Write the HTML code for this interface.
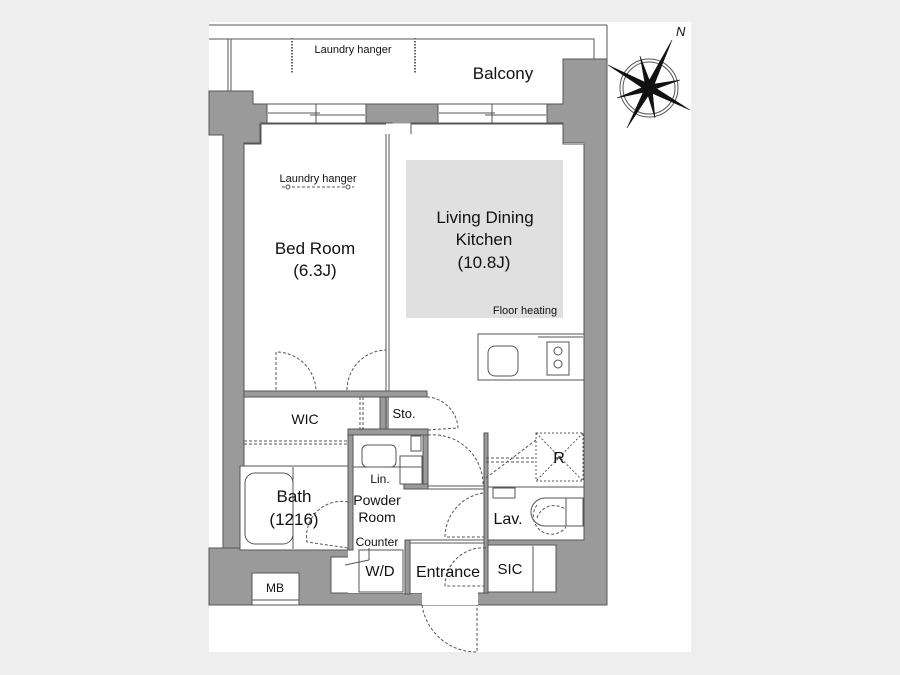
<!DOCTYPE html>
<html><head><meta charset="utf-8"><style>
html,body{margin:0;padding:0;background:#eeeeee;}
svg{display:block;}
text{font-family:"Liberation Sans",sans-serif;fill:#111;}
</style></head><body>
<svg width="900" height="675" viewBox="0 0 900 675" xmlns="http://www.w3.org/2000/svg">
<rect x="0" y="0" width="900" height="675" fill="#eeeeee"/>
<rect x="209" y="22" width="482" height="630" fill="#ffffff"/>
<g stroke="#555" fill="none" stroke-width="1">
<line x1="209" y1="25" x2="607" y2="25"/>
<line x1="607" y1="25" x2="607" y2="605"/>
<polyline points="209,39 594,39 594,59"/>
<line x1="228" y1="39" x2="228" y2="91"/>
<line x1="231" y1="39" x2="231" y2="91"/>
<line x1="253" y1="104" x2="556" y2="104"/>
</g>
<g stroke="#666" stroke-width="2" stroke-dasharray="1.5,1.5">
<line x1="292" y1="38" x2="292" y2="74"/>
<line x1="415" y1="38" x2="415" y2="74"/>
</g>
<g fill="#9a9a9a" stroke="#555" stroke-width="1">
<polygon points="209,91 253,91 253,104 267,104 267,123 260,123 260,143 244,143 244,548 223,548 223,135 209,135"/>
<polygon points="366,104 438,104 438,123 411,123 411,134 392,134 392,123 366,123"/>
<polygon points="547,104 563,104 563,59 607,59 607,605 209,605 209,548 244,548 244,143 584,143 563,143 563,123 547,123"/>
</g>
<g fill="#fff" stroke="none">
<rect x="244.5" y="144" width="141.5" height="404"/>
<rect x="261" y="123.5" width="125" height="21"/>
<rect x="389" y="123.5" width="174" height="21"/>
<rect x="389" y="143" width="195" height="397"/>
<rect x="389" y="540" width="97" height="8"/>
<rect x="386" y="134" width="4" height="260"/>
</g>
<g stroke="#555" fill="none">
<polyline points="261,124 261,144 244,144 244,548"/>
<polyline points="411,134 411,124 563,124 563,144 584,144 584,540 486,540"/>
<line x1="261" y1="124" x2="386" y2="124"/>
</g>
<g fill="#fff" stroke="#555" stroke-width="1">
<rect x="240" y="466" width="108" height="84"/>
<rect x="331" y="557" width="82" height="36"/>
<rect x="413" y="540" width="73" height="53"/>
<rect x="422" y="590" width="56" height="15" stroke="none"/>
<rect x="486" y="545" width="70" height="47"/>
<rect x="348" y="430" width="79" height="163" stroke="none"/>
</g>
<g stroke="#555" fill="none" stroke-width="1">
<rect x="267" y="104" width="99" height="19"/>
<line x1="268" y1="113" x2="320" y2="113"/><line x1="310" y1="115" x2="365" y2="115"/>
<line x1="316" y1="104" x2="316" y2="123"/>
<rect x="438" y="104" width="109" height="19"/>
<line x1="439" y1="113" x2="495" y2="113"/><line x1="485" y1="115" x2="546" y2="115"/>
<line x1="492" y1="104" x2="492" y2="123"/>
</g>
<line x1="386" y1="134" x2="386" y2="392" stroke="#555"/><line x1="389" y1="134" x2="389" y2="392" stroke="#555"/>
<rect x="406" y="160" width="157" height="158" fill="#e0e0e0"/>
<g stroke="#555" fill="#fff">
<rect x="478" y="334" width="106" height="46"/>
<rect x="488" y="346" width="30" height="30" rx="7"/>
<rect x="547" y="342" width="22" height="33"/>
<line x1="538" y1="337" x2="583" y2="337"/>
<circle cx="558" cy="351" r="4" fill="none"/><circle cx="558" cy="364" r="4" fill="none"/>
</g>
<g fill="#9a9a9a" stroke="#555">
<rect x="244" y="391" width="183" height="6"/>
<rect x="380" y="397" width="6" height="33"/>
<rect x="348" y="429" width="80" height="6"/>
<rect x="348" y="435" width="5" height="115"/>
<rect x="423" y="435" width="5" height="53"/>
<rect x="404" y="484" width="24" height="5"/>
<rect x="405" y="540" width="5" height="54"/>
<rect x="484" y="433" width="4" height="160"/>
</g>
<g stroke="#555" fill="none">
<line x1="428" y1="486" x2="484" y2="486"/><line x1="428" y1="489" x2="484" y2="489"/>
<line x1="410" y1="540" x2="484" y2="540"/><line x1="410" y1="543" x2="484" y2="543"/>
<rect x="488" y="487" width="96" height="53" fill="#fff"/>
<rect x="493" y="488" width="22" height="10"/>
<rect x="536" y="433" width="47" height="48" stroke-dasharray="2,2"/>
<line x1="536" y1="433" x2="583" y2="481" stroke-dasharray="2,2"/><line x1="583" y1="433" x2="536" y2="481" stroke-dasharray="2,2"/>
<rect x="252" y="573" width="47" height="32" fill="#fff"/>
<line x1="252" y1="600" x2="299" y2="600"/>
<line x1="533" y1="546" x2="533" y2="592"/>
<rect x="245" y="473" width="48" height="71" rx="10"/>
<line x1="293" y1="467" x2="293" y2="549"/>
<rect x="362" y="445" width="34" height="22" rx="5"/>
<rect x="359" y="550" width="44" height="42"/>
<line x1="353" y1="467" x2="423" y2="467"/>
<rect x="411" y="436" width="10" height="15"/>
<rect x="400" y="456" width="22" height="28"/>
<rect x="566" y="498" width="17" height="28"/>
<path d="M566,498 L545,498 A13,13 0 0 0 545,526 L566,526"/>
</g>
<g stroke="#555" fill="none" stroke-dasharray="3,2">
<path d="M276,390 L276,352 A40,40 0 0 1 316,390"/>
<path d="M347,390 A40,40 0 0 1 386,350"/>
<path d="M427,397 A33,33 0 0 1 458,428 L427,430"/>
<path d="M428,435 A50,50 0 0 1 483,486"/>
<path d="M483,493 A45,45 0 0 0 445,537 L484,537"/>
<path d="M348,502 A35,35 0 0 0 307,542 L348,548"/>
<path d="M486,548 A38,38 0 0 0 445,586 L484,586"/>
<path d="M422,605 A55,55 0 0 0 477,652 L477,605"/>
<path d="M486,458 L536,458 M486,462 L536,462 M486,478 L536,440"/>
<path d="M244,441 L348,441 M244,444 L348,444"/>
<path d="M360,430 L360,397 M363,430 L363,397"/>
<path d="M537,518 A18,18 0 0 1 566,510 M537,505 A18,18 0 0 0 566,527"/>
<line x1="282" y1="187" x2="354" y2="187"/>
</g>
<circle cx="288" cy="187" r="2" fill="#fff" stroke="#555"/><circle cx="348" cy="187" r="2" fill="#fff" stroke="#555"/>
<line x1="345" y1="565" x2="369" y2="560" stroke="#555"/><line x1="369" y1="548" x2="369" y2="560" stroke="#555"/>
<g transform="translate(649,88)">
<circle r="29" fill="none" stroke="#555" stroke-width="1"/>
<circle r="26" fill="none" stroke="#555" stroke-width="1"/>
<g fill="#111" stroke="#111" stroke-width="0.5">
<polygon points="-3,-2 23,-48 3,2 -22,40"/>
<polygon points="-2,3 -41,-23 2,-3 41,22"/>
<polygon points="-3,1 -9,-32 3,-1 6,30"/>
<polygon points="-1,-3 -32,10 1,3 31,-8"/>
</g>
<circle r="4" fill="#111"/>
</g>
<text x="676" y="36" font-size="13" font-style="italic">N</text>
<g text-anchor="middle">
<text x="353" y="53" font-size="11">Laundry hanger</text>
<text x="503" y="79" font-size="17">Balcony</text>
<text x="318" y="182" font-size="11">Laundry hanger</text>
<text x="315" y="254" font-size="17">Bed Room</text>
<text x="315" y="276" font-size="17">(6.3J)</text>
<text x="485" y="223" font-size="17">Living Dining</text>
<text x="484" y="245" font-size="17">Kitchen</text>
<text x="484" y="268" font-size="17">(10.8J)</text>
<text x="525" y="314" font-size="11">Floor heating</text>
<text x="305" y="424" font-size="14">WIC</text>
<text x="404" y="418" font-size="13">Sto.</text>
<text x="559" y="463" font-size="16">R</text>
<text x="380" y="483" font-size="12">Lin.</text>
<text x="377" y="505" font-size="14">Powder</text>
<text x="377" y="522" font-size="14">Room</text>
<text x="294" y="502" font-size="17">Bath</text>
<text x="294" y="525" font-size="17">(1216)</text>
<text x="377" y="546" font-size="12">Counter</text>
<text x="380" y="576" font-size="15">W/D</text>
<text x="448" y="577" font-size="16">Entrance</text>
<text x="508" y="524" font-size="16">Lav.</text>
<text x="510" y="574" font-size="15">SIC</text>
<text x="275" y="592" font-size="12">MB</text>
</g>
</svg>
</body></html>
